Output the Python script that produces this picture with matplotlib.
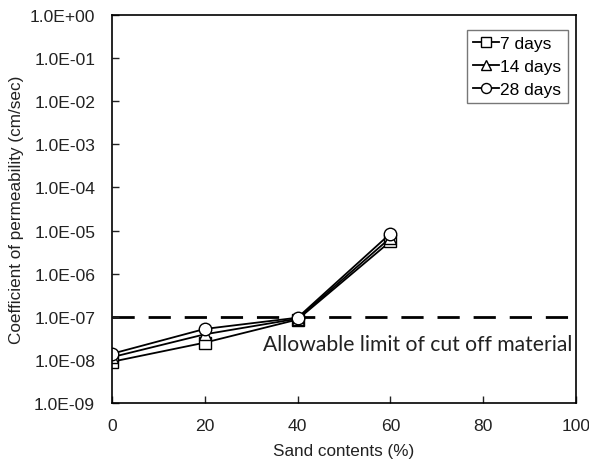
import matplotlib
matplotlib.use("Agg")
import matplotlib.pyplot as plt
from matplotlib.ticker import FuncFormatter, FixedLocator, NullLocator
import math

sand = [0, 20, 40, 60]
days7 = [0.9e-8, 2.5e-8, 0.86e-7, 5.6e-6]
days14 = [1.15e-8, 3.9e-8, 0.9e-7, 6.8e-6]
days28 = [1.38e-8, 5.2e-8, 0.95e-7, 8.5e-6]
series_labels = ["7 days", "14 days", "28 days"]
markers = ["s", "^", "o"]
limit = 1e-7
limit_text = "Allowable limit of cut off material"
xticks = [0, 20, 40, 60, 80, 100]
yticks = [1e-9, 1e-8, 1e-7, 1e-6, 1e-5, 1e-4, 1e-3, 1e-2, 1e-1, 1e0]

plt.rcParams['font.family'] = ['Liberation Sans', 'DejaVu Sans']
fig = plt.figure(figsize=(5.89, 4.6), dpi=100)
ax = fig.add_axes([0.190, 0.122, 0.788, 0.843])

for vals, lab, m in zip([days7, days14, days28], series_labels, markers):
    ax.plot(sand, vals, color='black', lw=1.3, marker=m, markersize=9,
            markerfacecolor='white', markeredgecolor='black', markeredgewidth=1.0,
            label=lab)

ax.axhline(limit, color='black', lw=2.0, dashes=(8, 5), zorder=0.5)
ax.text(32.5, 2.35e-8, limit_text, fontsize=15.2, family=['Lato', 'DejaVu Sans'],
        va='center', ha='left', color='#222222')

ax.set_yscale('log')
ax.set_ylim(1e-9, 1e0)
ax.set_xlim(0, 100)
ax.xaxis.set_major_locator(FixedLocator(xticks))
ax.yaxis.set_major_locator(FixedLocator(yticks))
ax.yaxis.set_minor_locator(NullLocator())

def fmt(v, pos):
    e = int(round(math.log10(v)))
    s = '+' if e >= 0 else '-'
    return f"1.0E{s}{abs(e):02d}"
ax.yaxis.set_major_formatter(FuncFormatter(fmt))
ax.tick_params(direction='in', length=5, width=1.0, labelsize=12.6, colors='#222222')
ax.tick_params(axis='y', pad=12)
ax.tick_params(axis='x', pad=11)
for sp in ax.spines.values():
    sp.set_linewidth(1.2)

ax.set_xlabel("Sand contents (%)", fontsize=12.3, labelpad=7, color='#222222')
ax.set_ylabel("Coefficient of permeability (cm/sec)", fontsize=12.3, labelpad=4, color='#222222')

leg = ax.legend(loc='upper right', bbox_to_anchor=(0.982, 0.962), fontsize=12.5,
                frameon=True, fancybox=False, edgecolor='#555555',
                handlelength=1.5, handletextpad=0.1, borderpad=0.35, labelspacing=0.45,
                borderaxespad=0.0, markerscale=0.8)
leg.get_frame().set_linewidth(1.0)

fig.savefig("out.png", dpi=100)
